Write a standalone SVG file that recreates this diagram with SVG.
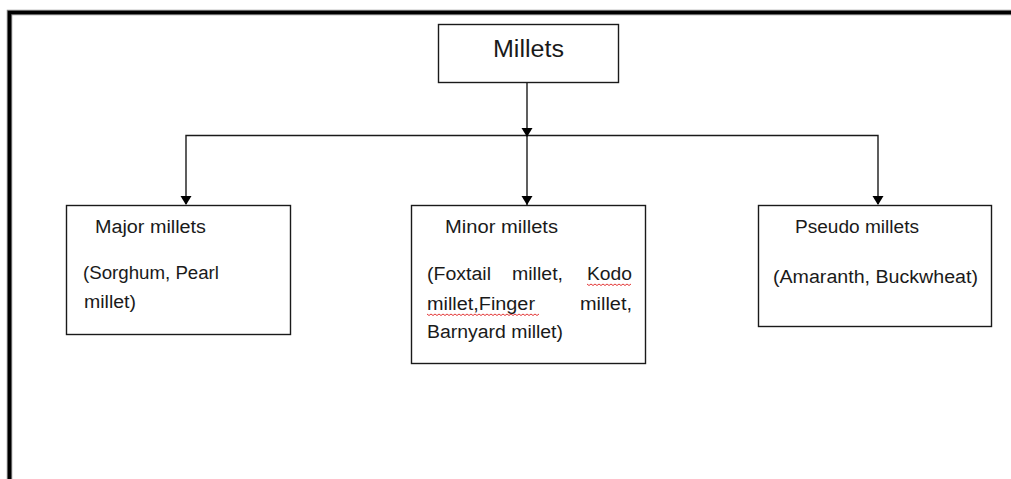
<svg xmlns="http://www.w3.org/2000/svg" width="1011" height="479" viewBox="0 0 1011 479">
<defs>
<style>
.box{fill:#fff;stroke:#1a1a1a;stroke-width:1.4}
.ln{fill:none;stroke:#1a1a1a;stroke-width:1.4}
.ah{fill:#000}
.t{font-family:"Liberation Sans",Arial,sans-serif;font-size:18px;fill:#1a1a1a}
.big{font-size:23px}
.sq{fill:none;stroke:#e02020;stroke-width:0.9}
</style>
</defs>
<rect width="1011" height="479" fill="#fff"/>
<g id="frame">
<path d="M9.5,479 V12.5 H1011" fill="none" stroke="#888" stroke-width="5.5"/>
<path d="M9.5,479 V12.5 H1011" fill="none" stroke="#000" stroke-width="3.6"/>
</g>
<g id="connectors">
<line class="ln" x1="527" y1="83" x2="527" y2="205"/>
<path class="ln" d="M186,204 V135.5 H878 V204"/>
<polygon class="ah" points="521.5,128 532.5,128 527,137"/>
<polygon class="ah" points="180.5,196 191.5,196 186,205"/>
<polygon class="ah" points="521.5,196 532.5,196 527,205"/>
<polygon class="ah" points="872.5,196 883.5,196 878,205"/>
</g>
<g id="millets">
<rect class="box" x="438.5" y="24.5" width="180" height="58"/>
<text class="t big" x="493" y="57" textLength="71" lengthAdjust="spacingAndGlyphs">Millets</text>
</g>
<g id="major">
<rect class="box" x="66.5" y="205.5" width="224" height="129"/>
<text class="t" x="95" y="233" textLength="111" lengthAdjust="spacingAndGlyphs">Major millets</text>
<text class="t" x="83" y="279" textLength="136" lengthAdjust="spacingAndGlyphs">(Sorghum, Pearl</text>
<text class="t" x="84" y="308" textLength="52" lengthAdjust="spacingAndGlyphs">millet)</text>
</g>
<g id="minor">
<rect class="box" x="411.5" y="205.5" width="234" height="158"/>
<text class="t" x="445" y="233" textLength="113" lengthAdjust="spacingAndGlyphs">Minor millets</text>
<text class="t" x="427" y="280" textLength="64" lengthAdjust="spacingAndGlyphs">(Foxtail</text>
<text class="t" x="512" y="280" textLength="51" lengthAdjust="spacingAndGlyphs">millet,</text>
<text class="t" x="587" y="280" textLength="45" lengthAdjust="spacingAndGlyphs">Kodo</text>
<text class="t" x="427" y="310" textLength="108" lengthAdjust="spacingAndGlyphs">millet,Finger</text>
<text class="t" x="580" y="310" textLength="52" lengthAdjust="spacingAndGlyphs">millet,</text>
<text class="t" x="427" y="338" textLength="136" lengthAdjust="spacingAndGlyphs">Barnyard millet)</text>
<path class="sq" d="M587,284 l2,1.5 l2,-1.5 l2,1.5 l2,-1.5 l2,1.5 l2,-1.5 l2,1.5 l2,-1.5 l2,1.5 l2,-1.5 l2,1.5 l2,-1.5 l2,1.5 l2,-1.5 l2,1.5 l2,-1.5 l2,1.5 l2,-1.5 l2,1.5 l2,-1.5 l2,1.5 l2,-1.5"/>
<path class="sq" d="M427,314 l2,1.5 l2,-1.5 l2,1.5 l2,-1.5 l2,1.5 l2,-1.5 l2,1.5 l2,-1.5 l2,1.5 l2,-1.5 l2,1.5 l2,-1.5 l2,1.5 l2,-1.5 l2,1.5 l2,-1.5 l2,1.5 l2,-1.5 l2,1.5 l2,-1.5 l2,1.5 l2,-1.5 l2,1.5 l2,-1.5 l2,1.5 l2,-1.5 l2,1.5 l2,-1.5 l2,1.5 l2,-1.5 l2,1.5 l2,-1.5 l2,1.5 l2,-1.5 l2,1.5 l2,-1.5 l2,1.5 l2,-1.5 l2,1.5 l2,-1.5 l2,1.5 l2,-1.5 l2,1.5 l2,-1.5 l2,1.5 l2,-1.5 l2,1.5 l2,-1.5 l2,1.5 l2,-1.5 l2,1.5 l2,-1.5 l2,1.5 l2,-1.5 l2,1.5 l2,-1.5"/>
</g>
<g id="pseudo">
<rect class="box" x="758.5" y="205.5" width="233" height="121"/>
<text class="t" x="795" y="233" textLength="124" lengthAdjust="spacingAndGlyphs">Pseudo millets</text>
<text class="t" x="773" y="283" textLength="205" lengthAdjust="spacingAndGlyphs">(Amaranth, Buckwheat)</text>
</g>
</svg>
